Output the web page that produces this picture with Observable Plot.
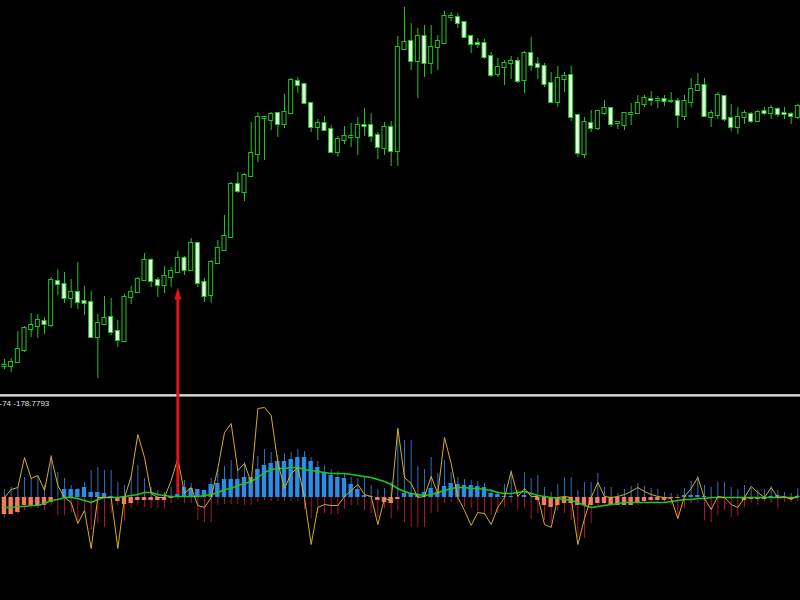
<!DOCTYPE html>
<html><head><meta charset="utf-8">
<script src="https://cdn.jsdelivr.net/npm/d3@7"></script>
<script src="https://cdn.jsdelivr.net/npm/@observablehq/plot@0.6"></script>
<style>
html,body{margin:0;padding:0;background:#000;width:800px;height:600px;overflow:hidden;}
#sep{height:1px;background:#dedede;border-top:1px solid #b8b8b8;border-bottom:1px solid #7a7a7a;}
svg{display:block}
</style></head><body>
<div id="top"></div><div id="sep"></div><div id="bottom"></div>
<script>
// ---- price bars (arbitrary price points) ----
const open = [34,34,38,50,71,74,79,75,119,116,
102,108,99,98,63,76,83,69,59,103,
108,120,140,120,115,123,128,142,130,157,
118,105,137,150,163,216,208,224,246,282,
280,287,276,287,319,316,297,273,277,271,
248,260,263,263,275,275,265,252,273,249,
351,359,339,364,337,353,357,383,383,378,
364,357,357,344,326,333,337,339,320,347,
336,334,317,298,321,325,285,246,277,272,
287,292,277,275,286,287,296,301,300,301,
299,299,284,298,310,315,283,285,304,282,
273,283,286,279,289,287,291,287,286,283];
const close = [35,38,51,72,75,80,76,120,116,102,
108,98,97,63,77,82,68,60,103,108,
121,140,119,115,124,129,142,130,157,117,
104,138,152,164,216,209,225,247,283,283,
286,276,288,320,315,297,273,277,270,248,
261,264,264,275,274,264,253,273,249,353,
358,339,364,337,353,359,384,384,377,363,
356,356,343,325,333,337,339,319,347,335,
333,316,298,322,324,283,247,278,272,289,
292,276,278,287,287,297,302,300,301,299,
299,285,299,311,315,284,287,305,281,273,
283,287,279,288,287,292,286,286,284,294];
const high = [41,42,69,74,87,86,83,123,131,128,
121,138,114,109,86,104,102,80,106,114,
123,147,142,123,134,133,149,144,162,157,
122,140,160,185,218,228,227,278,288,284,
288,288,306,322,323,316,297,281,284,275,
264,274,277,283,292,287,268,278,279,364,
393,377,372,375,375,365,389,388,387,378,
364,362,361,348,342,340,344,343,349,363,
343,337,328,334,328,334,285,283,290,290,
300,293,279,288,297,305,305,309,304,305,
308,302,305,322,327,322,290,308,304,296,
293,290,288,290,293,295,293,293,288,296];
const low = [31,28,37,48,63,62,66,73,105,97,
92,91,85,62,22,75,65,53,59,96,
107,119,113,103,107,113,127,125,129,113,
98,97,137,149,162,207,199,223,238,240,
270,263,272,287,307,296,268,260,270,247,
243,256,253,245,264,258,241,245,234,234,
350,330,302,323,326,330,356,379,372,363,
347,352,341,323,323,315,321,317,307,329,
321,313,298,293,308,279,243,242,268,270,
285,273,271,270,275,286,293,294,292,294,
297,272,280,293,309,283,273,281,279,269,
266,276,277,278,285,281,283,281,276,281];

// ---- indicator pane ----
const histogram = [-17,-17,-15,-8,-8,-8,-8,-5,0,8,
8,8,10,5,5,4,1,-4,-7,-6,
-3,-3,-3,-3,-3,-1,3,10,9,8,
7,13,14,18,18,18,20,20,28,32,
34,36,36,38,40,40,36,30,25,22,
20,19,13,8,2,1,-3,-5,-6,-2,
4,4,3,5,9,5,11,14,13,12,
12,11,10,4,3,1,1,0,2,0,
-3,-8,-10,-8,-6,-6,-8,-8,-8,-6,
-6,-7,-8,-8,-8,-6,-4,-3,-3,-3,
-1,-1,2,2,2,1,0,0,0,0,
0,-3,-2,-2,-2,1,2,0,-2,1];
const bullPower = [8,10,10,20,19,21,12,42,25,19,
12,9,15,27,30,27,27,15,12,21,
32,19,10,7,5,10,27,17,14,7,
7,19,28,31,37,27,35,19,41,48,
45,42,44,45,48,46,40,36,32,28,
26,24,20,19,21,12,8,9,15,69,
57,57,31,28,40,24,37,25,20,18,
17,16,14,8,6,13,27,7,25,19,
22,10,5,13,20,20,7,15,15,24,
10,10,4,8,11,14,11,9,8,5,
4,3,9,16,21,12,10,15,15,10,
8,12,9,7,8,11,7,5,4,9];
const bearPower = [-21,-18,-17,-13,-11,-11,-13,-8,-18,-18,
-15,-25,-15,-33,-26,-30,-16,-8,-24,-11,
-8,-10,-11,-11,-11,-6,-3,-6,-6,-23,
-25,-25,-8,-7,-7,-7,-8,-8,-5,-3,
-4,-4,-4,-4,-4,-12,-21,-16,-16,-17,
-17,-12,-8,-8,-13,-16,-20,-11,-21,-13,
-25,-30,-30,-30,-16,-15,-6,-5,-6,-10,
-11,-14,-18,-18,-16,-10,-6,-12,-11,-22,
-16,-23,-26,-13,-16,-23,-40,-41,-26,-10,
-8,-8,-6,-8,-8,-8,-6,-6,-6,-6,
-8,-21,-11,-6,-6,-23,-25,-18,-13,-20,
-19,-10,-6,-8,-4,-6,-11,-5,-5,-4];
const signal = [0,8,10,40,19,22,7,41,12,0,
-5,-26,-13,-51,0,0,0,-51,0,21,
63,40,4,0,0,17,39,4,10,-8,
-10,0,29,65,74,27,34,15,89,90,
82,35,9,24,30,0,-47,-10,-7,-8,
-8,1,7,13,3,1,-27,-1,-3,69,
20,14,0,1,21,4,60,34,0,-13,
-28,-15,-16,-27,-10,0,26,1,9,1,
1,-27,-30,0,1,0,-47,-21,0,15,
1,0,1,3,6,10,6,3,1,0,
-1,-21,1,9,20,-1,-12,1,0,-7,
-10,0,11,5,0,10,0,1,-2,2];
const trend = [-10,-10,-9,-9,-8,-8,-6,-3,-2,0,
0,-1,-3,-5,-2,0,0,0,1,2,
3,5,5,3,2,1,1,1,1,1,
2,3,5,8,9,12,14,16,20,25,
28,29,29,30,30,28,27,26,25,24,
24,24,23,22,21,20,18,16,13,9,
6,4,3,2,3,5,7,9,10,10,
9,9,8,7,5,4,4,5,6,4,
2,1,0,-1,-2,-3,-5,-8,-10,-9,
-8,-7,-6,-5,-5,-5,-5,-5,-5,-5,
-4,-3,-2,-2,-1,-1,0,0,0,0,
0,0,0,0,0,0,0,0,0,0];

const paneLabel = ["-74 -178.7793"];
const arrowBar = 26;      // bar index the arrow points at
const arrowTip = 113;     // price at arrow tip
const arrowBase = 3;      // indicator value at arrow foot

const n = open.length;
const bars = d3.range(n).map(i => ({i, o: open[i], c: close[i], h: high[i], l: low[i]}));
const ind = d3.range(n).map(i => ({i, hist: histogram[i], bull: bullPower[i], bear: bearPower[i], sig: signal[i], tr: trend[i]}));

const GREEN = "#22c422", RED = "#e01414";
const xDomain = [-0.6, n - 0.6];
const head = {draw(ctx, size) {
  const r = Math.sqrt(size / Math.PI);
  ctx.moveTo(0, 0); ctx.lineTo(-0.6 * r, 2 * r); ctx.lineTo(0.6 * r, 2 * r); ctx.closePath();
}};

const bodyOpts = {x1: d => d.i - 0.3, x2: d => d.i + 0.3, y1: "o", y2: "c", stroke: GREEN, strokeWidth: 1, insetTop: -0.5, insetBottom: -0.5};

const topPlot = Plot.plot({
  width: 800, height: 394, margin: 0,
  x: {domain: xDomain, axis: null},
  y: {domain: [6, 400], axis: null},
  style: {background: "#000", overflow: "visible"},
  marks: [
    Plot.ruleX(bars, {x: "i", y1: "l", y2: "h", stroke: GREEN, strokeWidth: 1}),
    Plot.rect(bars.filter(d => d.c >= d.o), {...bodyOpts, fill: "#000"}),
    Plot.rect(bars.filter(d => d.c < d.o), {...bodyOpts, fill: "#e4fce4"}),
    Plot.ruleX([arrowBar], {x: d => d, y1: 6, y2: arrowTip - 6, stroke: RED, strokeWidth: 3}),
    Plot.dot([arrowBar], {x: d => d, y: () => arrowTip, symbol: head, r: 6, fill: RED, stroke: "none"})
  ]
});
document.getElementById("top").appendChild(topPlot);

const histOpts = {x1: d => d.i - 0.33, x2: d => d.i + 0.33, y1: () => 0, y2: "hist"};
const bottomPlot = Plot.plot({
  width: 800, height: 203, margin: 0,
  x: {domain: xDomain, axis: null},
  y: {domain: [-103, 100], axis: null},
  style: {background: "#000", overflow: "visible"},
  marks: [
    Plot.ruleX(ind, {x: "i", y1: () => 0, y2: "bull", stroke: "#2f6cc0", strokeWidth: 1}),
    Plot.ruleX(ind, {x: "i", y1: () => 0, y2: "bear", stroke: "#a8162f", strokeWidth: 1}),
    Plot.rect(ind.filter(d => d.hist >= 0), {...histOpts, fill: "#2a8de8"}),
    Plot.rect(ind.filter(d => d.hist < 0), {...histOpts, fill: "#f47a62"}),
    Plot.line(ind, {x: "i", y: "tr", stroke: "#1ec81e", strokeWidth: 1.5}),
    Plot.line(ind, {x: "i", y: "sig", stroke: "#d6ae24", strokeWidth: 1}),
    Plot.ruleX([arrowBar], {x: d => d, y1: arrowBase, y2: 104, stroke: RED, strokeWidth: 3}),
    Plot.text(paneLabel, {text: d => d, frameAnchor: "top-left", textAnchor: "start", lineAnchor: "top", dx: -1, dy: 3, fill: "#e0e0e0", fontSize: 8, fontFamily: "Liberation Sans, Arial, sans-serif"})
  ]
});
document.getElementById("bottom").appendChild(bottomPlot);
</script>
</body></html>
